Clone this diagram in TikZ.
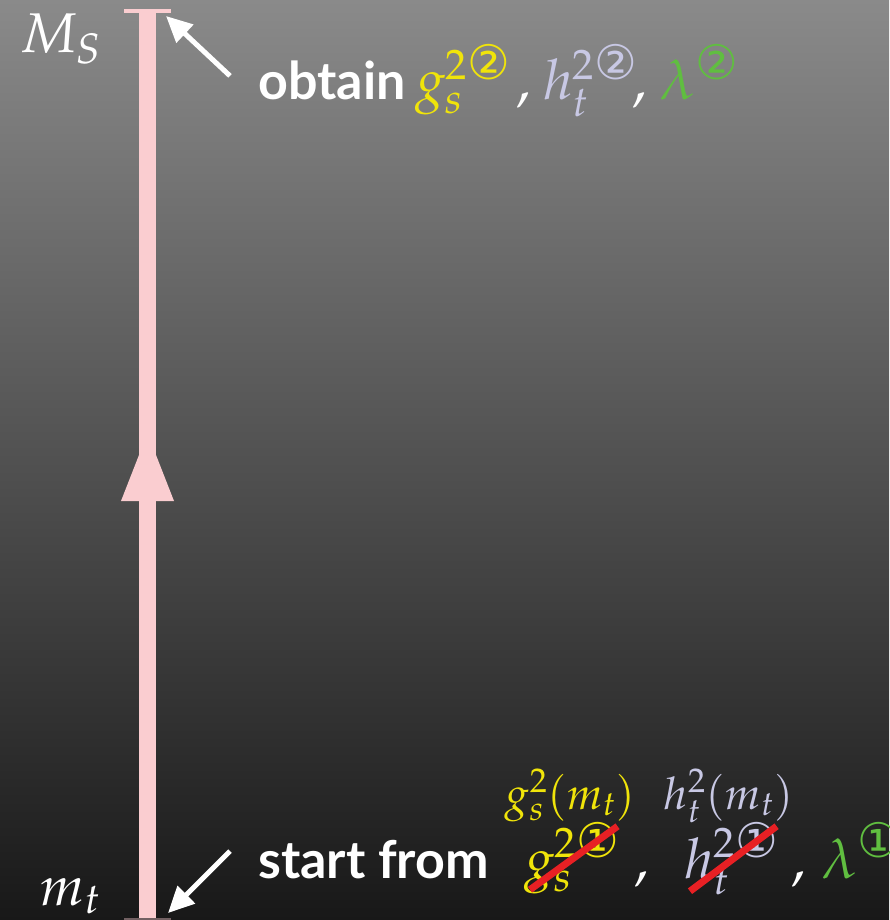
\documentclass[tikz,border=0pt]{standalone}
\usepackage{amsmath}
\usepackage{mathpazo}
\usepackage[no-math]{fontspec}
\setsansfont{Lato}
\newfontfamily\circfont{DejaVu Sans}
\usetikzlibrary{arrows.meta, calc}

\definecolor{bgtop}{RGB}{138,138,138}
\definecolor{bgbot}{RGB}{24,24,24}
\definecolor{barpink}{RGB}{250,205,208}
\definecolor{cplyel}{RGB}{240,228,10}
\definecolor{cpllav}{RGB}{200,200,228}
\definecolor{cplgrn}{RGB}{96,190,64}
\definecolor{strikered}{RGB}{232,32,36}

\newcommand{\cone}{\text{\circfont\scalebox{1.12}{①}}}
\newcommand{\ctwo}{\text{\circfont\scalebox{1.12}{②}}}

\begin{document}
\begin{tikzpicture}[
  x=1pt, y=-1pt,
  bigmath/.style={inner sep=0pt, anchor=base west, text=white,
    font=\fontsize{56}{60}\selectfont},
  smallmath/.style={inner sep=0pt, anchor=base west,
    font=\fontsize{45}{50}\selectfont},
  word/.style={inner sep=0pt, anchor=base west, text=white,
    font=\fontsize{52}{56}\selectfont\sffamily\bfseries},
  pointer/.style={draw=white, line width=5pt,
    -{Triangle[length=26pt, width=24pt]}},
  strike/.style={draw=strikered, line width=7pt},
]

% background
\shade[top color=bgtop, bottom color=bgbot] (0,0) rectangle (889,920);
\useasboundingbox (0,0) rectangle (889,920);

% running bar
\coordinate (MStop) at (147.5,11);
\coordinate (mtbot) at (147.5,919);
\draw[barpink, line width=17pt] (mtbot) -- (MStop);
\draw[barpink, line width=4pt] (124,11) -- (171,11);
\draw[barpink!40!bgbot, line width=3pt] (124,919) -- (171,919);
\fill[barpink] (139,455) -- (156,455) -- (174,501) -- (121,501) -- cycle;

% scale labels
\node[bigmath] (MS) at (20,53) {$M_S$};
\node[bigmath] (mt) at (40,905) {$m_t$};

% top line
\node[word] (obtain) at (258,100) {obtain};
\node[bigmath, text=cplyel] (gsTwo) at (415,100) {$g_s^{2\ctwo}$};
\node[bigmath] (cmA) at (516,100) {$,$};
\node[bigmath, text=cpllav] (htTwo) at (543,100) {$h_t^{2\ctwo}$};
\node[bigmath] (cmB) at (632,100) {$,$};
\node[bigmath, text=cplgrn] (lamTwo) at (660,100) {$\lambda^{\ctwo}$};

% bottom line
\node[word] (start) at (258,878) {start from};
\node[bigmath, text=cplyel] (gsOne) at (524,878) {$g_s^{2\cone}$};
\node[bigmath] (cmC) at (634,878) {$,$};
\node[bigmath, text=cpllav] (htOne) at (684,878) {$h_t^{2\cone}$};
\node[bigmath] (cmD) at (791,878) {$,$};
\node[bigmath, text=cplgrn] (lamOne) at (822,878) {$\lambda^{\cone}$};

\node[smallmath, text=cplyel] (gsMt) at (505,809) {$g_s^2(m_t)$};
\node[smallmath, text=cpllav] (htMt) at (664,809) {$h_t^2(m_t)$};

% crossed out
\draw[strike] ([shift={(6,-4)}]gsOne.south west) -- ([shift={(-2,4)}]gsOne.north east);
\draw[strike] ([shift={(6,-4)}]htOne.south west) -- ([shift={(-2,4)}]htOne.north east);

% pointers
\draw[pointer] ([shift={(-28,-5)}]obtain.west) -- (166,16);
\draw[pointer] ([shift={(-28,-8)}]start.west) -- (168,913);

\end{tikzpicture}
\end{document}
